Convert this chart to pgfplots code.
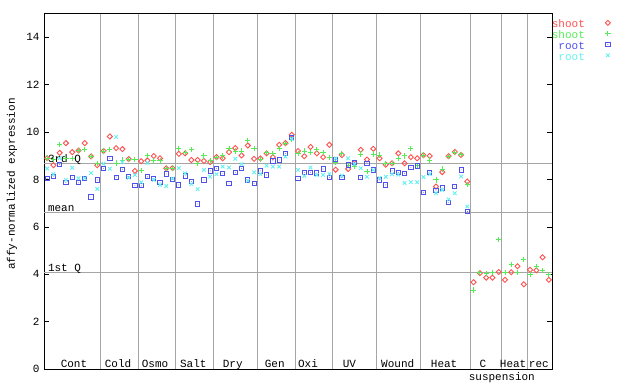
\documentclass[border=0pt]{standalone}
\usepackage{pgfplots}
\pgfplotsset{compat=1.18}
\usepackage{fontspec}
\setmonofont{Liberation Mono}
\newcommand\pf{\ttfamily\fontsize{11}{11}\selectfont}
\definecolor{sred}{RGB}{255,80,80}
\definecolor{sgreen}{RGB}{85,235,85}
\definecolor{rblue}{RGB}{80,80,235}
\definecolor{rcyan}{RGB}{100,240,240}
\definecolor{gline}{RGB}{165,165,165}
\pgfdeclareplotmark{sqdot}{%
  \pgfpathrectangle{\pgfqpoint{-\pgfplotmarksize}{-\pgfplotmarksize}}{\pgfqpoint{2\pgfplotmarksize}{2\pgfplotmarksize}}%
  \pgfusepathqstroke
  \pgfpathcircle{\pgfpointorigin}{0.45pt}\pgfusepathqfill}
\begin{document}
\begin{tikzpicture}
\begin{axis}[
  scale only axis, width=508pt, height=356pt,
  xmin=0, xmax=81, ymin=0, ymax=15,
  clip=false,
  axis line style={black, line width=0.8pt},
  xtick={9,15,21,27,34,40,46,53,60,68,73,77},
  xticklabels={},
  xmajorgrids, major x grid style={gline, line width=0.7pt},
  x tick style={draw=none},
  ytick={0,2,4,6,8,10,12,14},
  ytick pos=both, yticklabel pos=left,
  y tick style={black, line width=0.8pt},
  tick align=inside, major tick length=5pt,
  ticklabel style={font=\pf}, yticklabel style={xshift=-1pt},
  /pgf/number format/assume math mode=true,
  ylabel={affy-normalized expression},
  ylabel style={font=\pf, at={(axis description cs:-0.063,0.52)}, anchor=center},
  legend style={at={(rel axis cs:1,1)}, anchor=north west, xshift=-0.3pt, yshift=-5.8pt,
    draw=none, fill=none, inner sep=0pt, row sep=-1.7pt, column sep=0pt, font=\pf,
    nodes={inner sep=0pt, text height=7pt, text depth=4pt}},
  legend plot pos=right, legend cell align=right,
  legend image code/.code={\path[draw=none, fill=none] (0pt,0pt) -- (0pt,7pt); \draw[#1] plot coordinates {(23pt,3.4pt)};},
]
\addplot[gline, line width=0.7pt, forget plot] coordinates {(0,8.69) (81,8.69)};
\addplot[gline, line width=0.7pt, forget plot] coordinates {(0,6.62) (81,6.62)};
\addplot[gline, line width=0.7pt, forget plot] coordinates {(0,4.09) (81,4.09)};

\addplot[only marks, mark=square, mark size=1.8pt, mark options={rotate=45, draw=sred, fill=sred!45, line width=0.9pt}] coordinates {
(0.5,8.90) (1.5,8.60) (2.5,9.12) (3.5,9.53) (4.5,9.15) (5.5,9.22) (6.5,9.53) (7.5,8.97) (8.5,8.60)
(9.5,9.20) (10.5,9.81) (11.5,9.32) (12.5,9.28) (13.5,8.86) (14.5,8.36)
(15.5,8.77) (16.5,8.80) (17.5,8.99) (18.5,8.89) (19.5,8.47) (20.5,8.48)
(21.5,9.08) (22.5,9.10) (23.5,8.82) (24.5,8.82) (25.5,8.78) (26.5,8.73)
(27.5,8.94) (28.5,8.89) (29.5,9.15) (30.5,9.32) (31.5,9.01) (32.5,9.43) (33.5,8.87)
(34.5,8.89) (35.5,9.10) (36.5,8.94) (37.5,9.46) (38.5,9.53) (39.5,9.88)
(40.5,9.20) (41.5,8.98) (42.5,9.37) (43.5,9.10) (44.5,8.94) (45.5,9.46)
(46.5,8.41) (47.5,9.03) (48.5,8.44) (49.5,8.69) (50.5,9.25) (51.5,8.84) (52.5,9.29)
(53.5,8.89) (54.5,8.62) (55.5,8.68) (56.5,9.10) (57.5,8.68) (58.5,8.94) (59.5,8.89)
(60.5,9.02) (61.5,8.99) (62.5,7.70) (63.5,8.31) (64.5,8.98) (65.5,9.16) (66.5,9.03) (67.5,7.91)
(68.5,3.67) (69.5,4.05) (70.5,3.86) (71.5,3.86) (72.5,4.10)
(73.5,3.77) (74.5,4.09) (75.5,4.34) (76.5,3.58)
(77.5,4.19) (78.5,4.17) (79.5,4.72) (80.5,3.77)
};
\addlegendentry{\textcolor{sred}{shoot}}

\addplot[only marks, mark=+, mark size=2.6pt, mark options={draw=sgreen, line width=0.9pt}] coordinates {
(0.5,8.90) (1.5,8.85) (2.5,9.48) (3.5,8.89) (4.5,8.89) (5.5,9.22) (6.5,9.25) (7.5,8.97) (8.5,8.68)
(9.5,9.20) (10.5,9.27) (11.5,8.69) (12.5,8.82) (13.5,8.85) (14.5,8.85)
(15.5,8.36) (16.5,9.02) (17.5,8.78) (18.5,8.78) (19.5,8.47) (20.5,8.48)
(21.5,9.32) (22.5,9.15) (23.5,9.27) (24.5,8.68) (25.5,8.99) (26.5,8.78)
(27.5,8.94) (28.5,8.99) (29.5,9.29) (30.5,9.20) (31.5,9.20) (32.5,9.63) (33.5,9.29)
(34.5,8.85) (35.5,9.13) (36.5,9.10) (37.5,9.32) (38.5,9.53) (39.5,9.67)
(40.5,9.10) (41.5,9.20) (42.5,9.15) (43.5,9.27) (44.5,9.15) (45.5,8.94)
(46.5,8.71) (47.5,9.10) (48.5,8.60) (49.5,8.56) (50.5,9.07) (51.5,8.34) (52.5,9.07)
(53.5,9.03) (54.5,8.68) (55.5,8.68) (56.5,8.87) (57.5,8.99) (58.5,9.29) (59.5,8.60)
(60.5,9.03) (61.5,8.82) (62.5,7.98) (63.5,8.44) (64.5,8.96) (65.5,9.15) (66.5,9.05) (67.5,7.77)
(68.5,3.34) (69.5,4.09) (70.5,4.03) (71.5,4.09) (72.5,5.48)
(73.5,4.09) (74.5,4.43) (75.5,4.09) (76.5,4.61)
(77.5,4.01) (78.5,4.34) (79.5,4.15) (80.5,3.99)
};
\addlegendentry{\textcolor{sgreen}{shoot}}

\addplot[only marks, mark=sqdot, mark size=2.1pt, mark options={draw=rblue, fill=rblue, line width=0.9pt}] coordinates {
(0.5,8.03) (1.5,8.14) (2.5,8.64) (3.5,7.87) (4.5,8.07) (5.5,7.88) (6.5,8.05) (7.5,7.26) (8.5,7.98)
(9.5,8.47) (10.5,8.89) (11.5,8.10) (12.5,8.43) (13.5,8.12) (14.5,7.73)
(15.5,7.73) (16.5,8.11) (17.5,8.05) (18.5,7.88) (19.5,8.23) (20.5,8.01)
(21.5,7.77) (22.5,8.15) (23.5,7.92) (24.5,6.97) (25.5,7.98) (26.5,8.36)
(27.5,8.47) (28.5,8.26) (29.5,7.84) (30.5,8.30) (31.5,8.47) (32.5,7.98) (33.5,7.84)
(34.5,8.36) (35.5,8.19) (36.5,8.78) (37.5,8.82) (38.5,9.10) (39.5,9.77)
(40.5,8.05) (41.5,8.29) (42.5,8.30) (43.5,8.27) (44.5,8.44) (45.5,8.09)
(46.5,8.84) (47.5,8.08) (48.5,8.61) (49.5,8.72) (50.5,8.09) (51.5,8.69) (52.5,8.40)
(53.5,7.98) (54.5,7.77) (55.5,8.36) (56.5,8.29) (57.5,8.26) (58.5,8.51) (59.5,8.57)
(60.5,7.46) (61.5,8.31) (62.5,7.55) (63.5,7.64) (64.5,7.04) (65.5,7.71) (66.5,8.40) (67.5,6.65)
};
\addlegendentry{\textcolor{rblue}{root}}

\addplot[only marks, mark=x, mark size=2.5pt, mark options={draw=rcyan, line width=0.9pt}] coordinates {
(0.5,8.46) (1.5,8.22) (2.5,8.90) (3.5,7.98) (4.5,8.49) (5.5,8.05) (6.5,8.05) (7.5,8.27) (8.5,7.60)
(9.5,8.66) (10.5,8.45) (11.5,9.79) (12.5,8.73) (13.5,8.07) (14.5,8.19)
(15.5,7.88) (16.5,8.70) (17.5,7.98) (18.5,7.77) (19.5,7.72) (20.5,8.04)
(21.5,8.48) (22.5,8.26) (23.5,7.80) (24.5,7.59) (25.5,8.40) (26.5,8.12)
(27.5,8.22) (28.5,8.54) (29.5,8.50) (30.5,8.87) (31.5,8.64) (32.5,7.94) (33.5,8.30)
(34.5,8.22) (35.5,8.58) (36.5,8.54) (37.5,8.54) (38.5,8.96) (39.5,9.71)
(40.5,8.40) (41.5,8.15) (42.5,8.50) (43.5,8.19) (44.5,8.19) (45.5,8.22)
(46.5,8.89) (47.5,8.16) (48.5,8.89) (49.5,8.64) (50.5,8.47) (51.5,8.11) (52.5,8.40)
(53.5,8.06) (54.5,8.11) (55.5,8.22) (56.5,8.20) (57.5,7.85) (58.5,7.89) (59.5,7.88)
(60.5,8.10) (61.5,8.22) (62.5,7.42) (63.5,7.56) (64.5,7.16) (65.5,7.42) (66.5,8.13) (67.5,6.86)
};
\addlegendentry{\textcolor{rcyan}{root}}

\node[font=\pf, anchor=base west] at (axis cs:0,8.69) [xshift=0.5pt, yshift=1pt] {3rd Q};
\node[font=\pf, anchor=base west] at (axis cs:0,6.62) [xshift=0.5pt, yshift=1pt] {mean};
\node[font=\pf, anchor=base west] at (axis cs:0,4.09) [xshift=0.5pt, yshift=1pt] {1st Q};

\node[font=\pf, anchor=base] at (axis cs:4.78,0) [yshift=1.5pt] {Cont};
\node[font=\pf, anchor=base] at (axis cs:11.8,0) [yshift=1.5pt] {Cold};
\node[font=\pf, anchor=base] at (axis cs:17.7,0) [yshift=1.5pt] {Osmo};
\node[font=\pf, anchor=base] at (axis cs:23.8,0) [yshift=1.5pt] {Salt};
\node[font=\pf, anchor=base] at (axis cs:30.1,0) [yshift=1.5pt] {Dry};
\node[font=\pf, anchor=base] at (axis cs:36.8,0) [yshift=1.5pt] {Gen};
\node[font=\pf, anchor=base] at (axis cs:42.1,0) [yshift=1.5pt] {Oxi};
\node[font=\pf, anchor=base] at (axis cs:48.7,0) [yshift=1.5pt] {UV};
\node[font=\pf, anchor=base] at (axis cs:56.4,0) [yshift=1.5pt] {Wound};
\node[font=\pf, anchor=base] at (axis cs:63.8,0) [yshift=1.5pt] {Heat};
\node[font=\pf, anchor=base] at (axis cs:70.0,0) [yshift=1.5pt] {C};
\node[font=\pf, anchor=base] at (axis cs:74.8,0) [yshift=1.5pt] {Heat};
\node[font=\pf, anchor=base] at (axis cs:78.9,0) [yshift=1.5pt] {rec};
\node[font=\pf, anchor=base] at (axis cs:73.0,0) [yshift=-11.4pt] {suspension};
\end{axis}
\pgfresetboundingbox
\path (-44pt,-14.7pt) rectangle (596pt,369.3pt);
\end{tikzpicture}
\end{document}
